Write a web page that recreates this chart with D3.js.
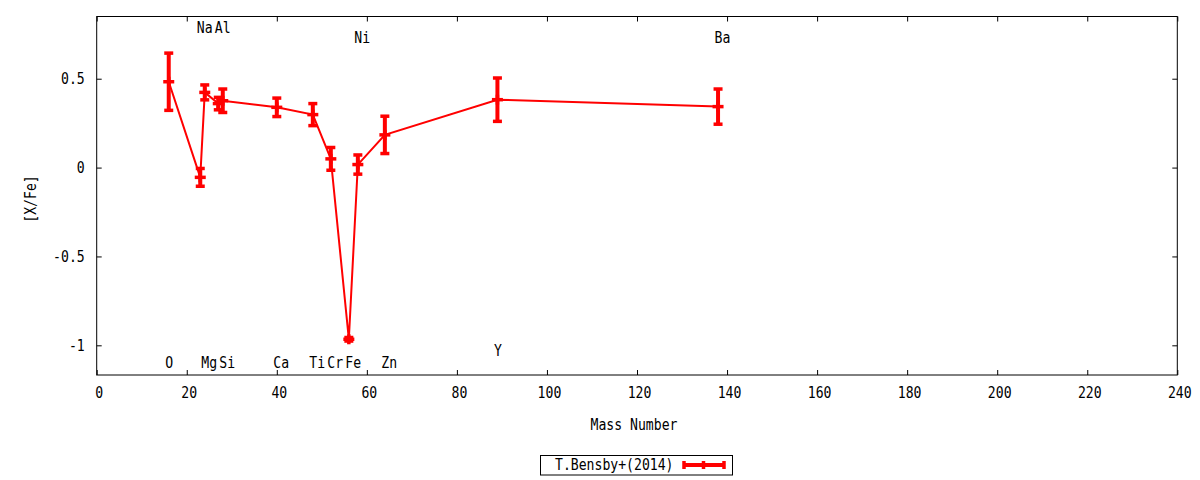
<html>
<head>
<script src="https://cdn.jsdelivr.net/npm/d3@7"></script>
<style>
	body {
		margin: 0;
		background-color: #fff;
	}
	text {
		font-family: "DejaVu Sans Mono", monospace;
		font-size: 15px;
		fill: #000;
	}
</style>
</head>
<body>
<div id="chart"></div>
<script>
	// values
	var elements   = ["O", "Na", "Mg", "Al", "Si", "Ca", "Ti", "Cr", "Fe", "Ni", "Zn", "Y", "Ba"];
	var massNumber = [16, 23, 24, 27, 28, 40, 48, 52, 56, 58, 64, 89, 138];
	var xFe        = [0.483, -0.055, 0.423, 0.36, 0.376, 0.339, 0.298, 0.049, -0.966, 0.017, 0.184, 0.382, 0.343];
	var xFeErr     = [0.161, 0.05, 0.042, 0.035, 0.066, 0.052, 0.062, 0.064, 0.01, 0.054, 0.105, 0.122, 0.099];
	// [X/Fe] level where each element name is written
	var labelLevel = [-1.10, 0.79, -1.10, 0.79, -1.10, -1.10, -1.10, -1.10, -1.10, 0.73, -1.10, -1.03, 0.73];

	var xTicks = [0, 20, 40, 60, 80, 100, 120, 140, 160, 180, 200, 220, 240];
	var yTicks = [-1, -0.5, 0, 0.5];
	var seriesName = "T.Bensby+(2014)";

	var width = 1200;
	var height = 480;
	var pLeft = 96.7, pRight = 1177.3, pTop = 16.5, pBottom = 375;
	var red = "#ff0000";
	var charW = 7.9;

	var x = d3.scaleLinear().domain([0, 240]).range([pLeft, pRight]);
	var y = d3.scaleLinear().domain([-1.167, 0.85]).range([pBottom, pTop]);

	var svg = d3.select("#chart").append("svg")
		.attr("width", width)
		.attr("height", height)
		.attr("display", "block");

	// squeeze the mono font to the narrow gnuplot look
	function narrow(sel) {
		sel.each(function() {
			var t = d3.select(this);
			var s = t.text();
			if (s.length > 0)
				t.attr("textLength", s.length * charW).attr("lengthAdjust", "spacingAndGlyphs");
		});
	}

	var fmt = function(d) { return String(d); };

	// bottom axis, ticks point inward
	var gx = svg.append("g")
		.attr("transform", "translate(0," + pBottom + ")")
		.call(d3.axisBottom(x).tickValues(xTicks).tickSizeInner(-5).tickSizeOuter(0).tickPadding(12.5).tickFormat(fmt));
	gx.selectAll("text").attr("dx", 2).call(narrow);

	var gy = svg.append("g")
		.attr("transform", "translate(" + pLeft + ",0)")
		.call(d3.axisLeft(y).tickValues(yTicks).tickSizeInner(-5).tickSizeOuter(0).tickPadding(12).tickFormat(fmt));
	gy.selectAll("text").call(narrow);

	// mirrored ticks top and right
	svg.append("g")
		.attr("transform", "translate(0," + pTop + ")")
		.call(d3.axisTop(x).tickValues(xTicks).tickSizeInner(-5).tickSizeOuter(0).tickFormat(""));
	svg.append("g")
		.attr("transform", "translate(" + pRight + ",0)")
		.call(d3.axisRight(y).tickValues(yTicks).tickSizeInner(-5).tickSizeOuter(0).tickFormat(""));

	svg.selectAll(".domain").remove();
	svg.selectAll(".tick line").attr("stroke", "#000");

	svg.append("rect")
		.attr("x", pLeft)
		.attr("y", pTop)
		.attr("width", pRight - pLeft)
		.attr("height", pBottom - pTop)
		.attr("fill", "none")
		.attr("stroke", "#000")
		.attr("stroke-width", 1);

	// axis titles
	svg.append("text")
		.attr("x", (pLeft + pRight) / 2 - 3)
		.attr("y", 430)
		.attr("text-anchor", "middle")
		.text("Mass Number")
		.call(narrow);

	svg.append("text")
		.attr("transform", "translate(36,199) rotate(-90)")
		.attr("text-anchor", "middle")
		.text("[X/Fe]")
		.call(narrow);

	// element names
	svg.selectAll(".elabel")
		.data(elements)
		.enter()
		.append("text")
		.attr("class", "elabel")
		.attr("x", function(d, i) { return x(massNumber[i]) - 3.5; })
		.attr("y", function(d, i) { return y(labelLevel[i]); })
		.attr("dy", "0.36em")
		.attr("text-anchor", "start")
		.text(function(d) { return d; })
		.call(narrow);

	// connecting line
	var line = d3.line()
		.x(function(d, i) { return x(massNumber[i]); })
		.y(function(d) { return y(d); });

	svg.append("path")
		.datum(xFe)
		.attr("d", line)
		.attr("fill", "none")
		.attr("stroke", red)
		.attr("stroke-width", 2);

	// error bars
	var bars = svg.selectAll(".ebar")
		.data(xFe)
		.enter()
		.append("g")
		.attr("class", "ebar")
		.attr("stroke", red);

	bars.append("line")
		.attr("x1", function(d, i) { return x(massNumber[i]); })
		.attr("x2", function(d, i) { return x(massNumber[i]); })
		.attr("y1", function(d, i) { return y(d + xFeErr[i]); })
		.attr("y2", function(d, i) { return y(d - xFeErr[i]); })
		.attr("stroke-width", 4);

	[1, -1].forEach(function(sign) {
		bars.append("line")
			.attr("x1", function(d, i) { return x(massNumber[i]) - 4.5; })
			.attr("x2", function(d, i) { return x(massNumber[i]) + 4.5; })
			.attr("y1", function(d, i) { return y(d + sign * xFeErr[i]); })
			.attr("y2", function(d, i) { return y(d + sign * xFeErr[i]); })
			.attr("stroke-width", 3.5);
	});

	// point marker (plus)
	bars.append("line")
		.attr("x1", function(d, i) { return x(massNumber[i]) - 5.5; })
		.attr("x2", function(d, i) { return x(massNumber[i]) + 5.5; })
		.attr("y1", function(d) { return y(d); })
		.attr("y2", function(d) { return y(d); })
		.attr("stroke-width", 3.5);
	bars.append("line")
		.attr("x1", function(d, i) { return x(massNumber[i]); })
		.attr("x2", function(d, i) { return x(massNumber[i]); })
		.attr("y1", function(d) { return y(d) - 5; })
		.attr("y2", function(d) { return y(d) + 5; })
		.attr("stroke-width", 3.5);

	// legend
	var lg = svg.append("g");
	lg.append("rect")
		.attr("x", 540.5)
		.attr("y", 455.5)
		.attr("width", 192)
		.attr("height", 19.5)
		.attr("fill", "none")
		.attr("stroke", "#000")
		.attr("stroke-width", 1);
	lg.append("text")
		.attr("x", 673.5)
		.attr("y", 469.5)
		.attr("text-anchor", "end")
		.text(seriesName)
		.call(narrow);
	lg.append("line")
		.attr("x1", 684).attr("x2", 724)
		.attr("y1", 465).attr("y2", 465)
		.attr("stroke", red)
		.attr("stroke-width", 4);
	[684, 703.5, 724].forEach(function(px) {
		lg.append("line")
			.attr("x1", px).attr("x2", px)
			.attr("y1", 461).attr("y2", 469)
			.attr("stroke", red)
			.attr("stroke-width", 3.5);
	});
</script>
</body>
</html>
